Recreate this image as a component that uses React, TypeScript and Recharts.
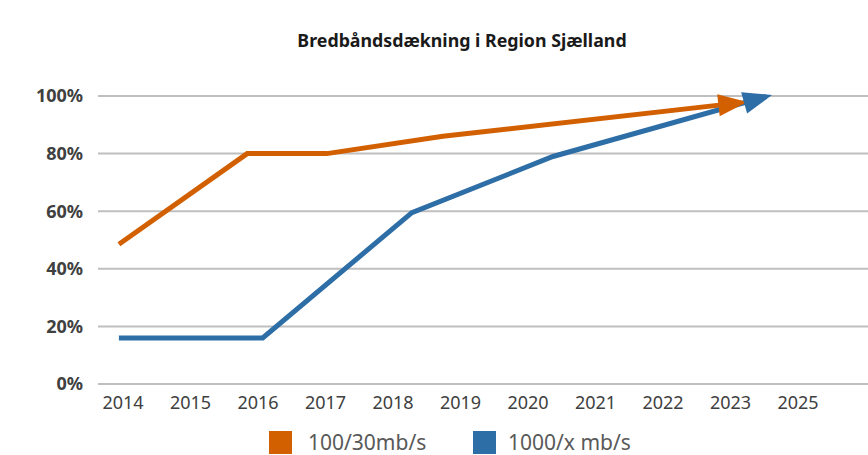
import { LineChart, Line, XAxis, YAxis, CartesianGrid, Legend } from 'recharts';

// x is the slot on the category axis (0 = 2014 ... 9 = 2023, 10 = 2025)
const xLabels = ['2014', '2015', '2016', '2017', '2018', '2019', '2020', '2021', '2022', '2023', '2025'];
const yTicks = [0, 20, 40, 60, 80, 100];

const fastX = [-0.06, 1.84, 3.02, 4.74, 9.16];
const fastY = [48.5, 80, 80, 86, 97.7];

const gigaX = [-0.06, 2.07, 4.28, 6.37, 9.53];
const gigaY = [16, 16, 59.5, 79, 99.8];

const ORANGE = '#D26000';
const BLUE = '#2E6EA6';

const fastData = fastX.map((x, i) => ({ x, v: fastY[i] }));
const gigaData = gigaX.map((x, i) => ({ x, v: gigaY[i] }));

const seriesList = [
  { name: '100/30mb/s', color: ORANGE, left: 269, gap: 16 },
  { name: '1000/x mb/s', color: BLUE, left: 473, gap: 12 },
];

// draws an arrow head on the last point of a line
function ArrowDot(props: any) {
  const { cx, cy, index, points, stroke } = props;
  if (!points || index !== points.length - 1 || index === 0) return <g key={`d-${index}`} />;
  const prev = points[index - 1];
  const dx = cx - prev.x;
  const dy = cy - prev.y;
  const len = Math.sqrt(dx * dx + dy * dy) || 1;
  const ux = dx / len;
  const uy = dy / len;
  const tipX = cx + ux * 6;
  const tipY = cy + uy * 6;
  const bx = cx - ux * 23;
  const by = cy - uy * 23;
  const hw = 11;
  const pts = `${tipX},${tipY} ${bx - uy * hw},${by + ux * hw} ${bx + uy * hw},${by - ux * hw}`;
  return <polygon key={`d-${index}`} points={pts} fill={stroke} stroke="none" />;
}

function LegendContent() {
  return (
    <div style={{ position: 'relative', width: 868, height: 25 }}>
      {seriesList.map((s) => (
        <div
          key={s.name}
          style={{
            position: 'absolute',
            left: s.left,
            top: 0,
            display: 'flex',
            alignItems: 'center',
          }}
        >
          <span style={{ display: 'inline-block', width: 23, height: 23, background: s.color }} />
          <span
            style={{
              marginLeft: s.gap,
              fontFamily: '"Noto Sans", sans-serif',
              fontSize: 21,
              color: '#595959',
              lineHeight: '23px',
            }}
          >
            {s.name}
          </span>
        </div>
      ))}
    </div>
  );
}

export default function App() {
  return (
    <div
      style={{
        position: 'absolute',
        left: 0,
        top: 0,
        width: 868,
        height: 455,
        overflow: 'hidden',
        background: '#fff',
      }}
    >
      <div
        style={{
          position: 'absolute',
          left: 0,
          width: 924,
          top: 28,
          textAlign: 'center',
          fontFamily: '"Noto Sans", sans-serif',
          fontWeight: 700,
          fontSize: 17.8,
          color: '#1a1a1a',
          zIndex: 2,
        }}
      >
        Bredbåndsdækning i Region Sjælland
      </div>
      <LineChart width={868} height={455} margin={{ top: 96, right: 0, bottom: 0, left: 0 }}>
        <CartesianGrid vertical={false} stroke="#bfbfbf" strokeWidth={2} />
        <XAxis
          type="number"
          dataKey="x"
          domain={[-0.37, 11.037]}
          ticks={xLabels.map((_, i) => i)}
          tickFormatter={(v: number) => xLabels[v] ?? ''}
          allowDataOverflow
          axisLine={false}
          tickLine={false}
          tickSize={0}
          tickMargin={12}
          height={46}
          interval={0}
          tick={{ fill: '#404040', fontSize: 18, fontFamily: '"Noto Sans", sans-serif' }}
        />
        <YAxis
          type="number"
          domain={[0, 100]}
          ticks={yTicks}
          tickFormatter={(v: number) => `${v}%`}
          axisLine={false}
          tickLine={false}
          tickSize={0}
          tickMargin={15}
          width={98}
          interval={0}
          tick={{ fill: '#404040', fontSize: 18, fontWeight: 700, fontFamily: '"Noto Sans", sans-serif' }}
        />
        <Legend
          verticalAlign="bottom"
          content={<LegendContent />}
          wrapperStyle={{ position: 'absolute', left: 0, top: 431, width: 868, height: 25, bottom: 'auto' }}
        />
        <Line
          data={fastData}
          dataKey="v"
          name="100/30mb/s"
          type="linear"
          stroke={ORANGE}
          strokeWidth={5}
          dot={ArrowDot}
          activeDot={false}
          isAnimationActive={false}
        />
        <Line
          data={gigaData}
          dataKey="v"
          name="1000/x mb/s"
          type="linear"
          stroke={BLUE}
          strokeWidth={5}
          dot={ArrowDot}
          activeDot={false}
          isAnimationActive={false}
        />
      </LineChart>
    </div>
  );
}
